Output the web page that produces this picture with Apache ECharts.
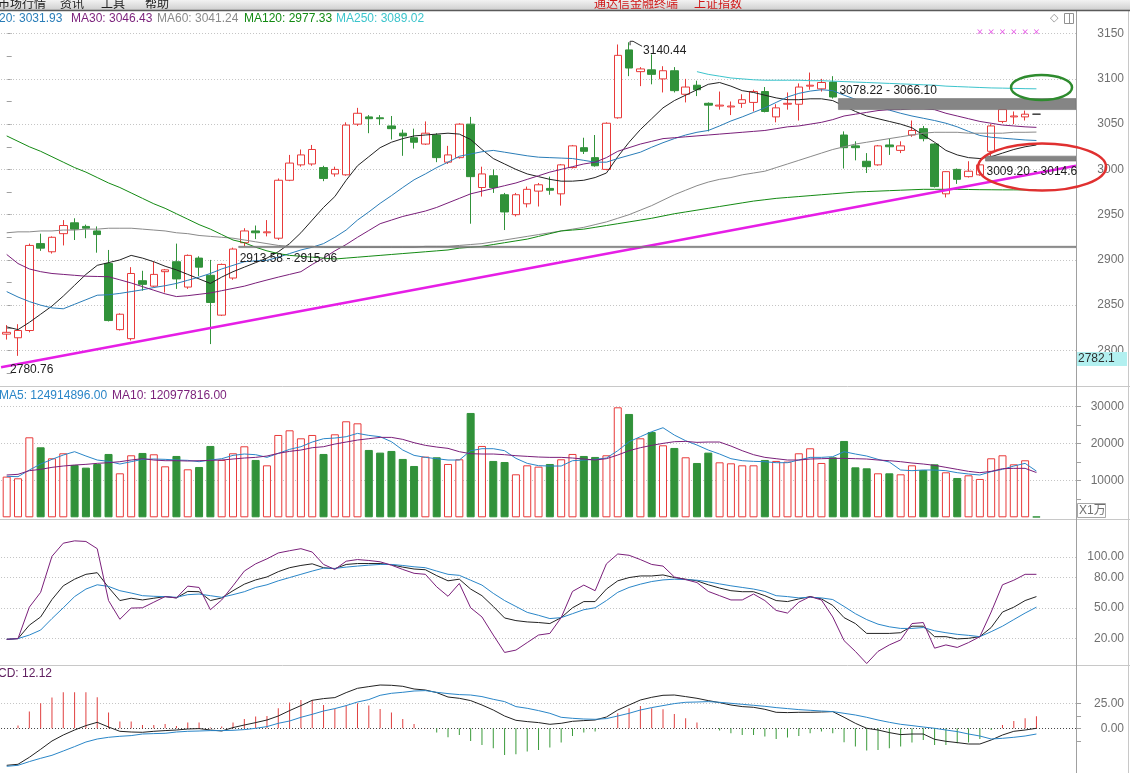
<!DOCTYPE html>
<html><head><meta charset="utf-8">
<script src="https://cdn.jsdelivr.net/npm/echarts@6.0.0/dist/echarts.min.js"></script>
<style>html,body{margin:0;padding:0;background:#fff;overflow:hidden}#chart{width:1130px;height:773px}</style>
</head><body><div id="chart"></div>
<script>
// ---------------- data ----------------
const categories = Array.from({length: 95}, (_, i) => 'D' + (i + 1));
const open = [2818,2814,2822,2918,2909,2929,2941,2937,2932,2896,
2823,2813,2877,2871,2887,2898,2870,2902,2883,2839,
2880,2919,2932,2930,2924,2988,3005,3006,3002,2995,
2994,3050,3058,3057,3048,3040,3035,3028,3038,3008,
3013,3050,2980,2993,2972,2950,2962,2976,2979,2973,
3002,3024,3013,3000,3057,3132,3108,3110,3100,3109,
3083,3093,3073,3070,3069,3073,3074,3086,3058,3072,
3072,3092,3089,3096.5,3038,3026,3009,3005,3027,3021,
3038,3045,3028,2973,3000,2992,2994,3020,3053,3058,
3058,3061];
const close = [2820,2822,2916,2913,2925,2938,2934,2935,2928,2833,
2840,2885,2873,2884,2889,2879,2905,2892,2853,2895,
2912,2932,2930,2931,2988,3007,3016,3022,2990,3000,
3049,3062,3056,3056,3045,3037,3030,3040,3013,3016,
3050,2992,2995,2980,2953,2972,2978,2983,2977,3005,
3026,3020,3004,3051,3126,3112,3111,3105,3109,3087,
3091,3088,3071,3071,3070,3077,3086,3064,3068,3073,
3091,3093,3096,3080,3024,3024,3003,3026,3025,3026,
3043,3034,2981,2997.5,2989,2998,3005,3048,3066.1,3059,
3061,3061];
const high = [2828,2829,2918,2929,2926,2944,2946,2939,2937,2911,
2841,2892,2888,2898,2890,2918,2906,2904,2900,2896,
2913.58,2935,2938,2944,2990,3016,3022,3027,3004,3003,
3052,3068,3060,3060,3059,3044,3045,3053,3040,3026,
3051,3058,3003,3000,2974,2974,2981,2985,2992,3006,
3027,3035,3038,3052,3138,3140.44,3113,3127,3114,3113,
3100,3098,3074,3086,3075,3083,3088,3091,3072,3085,
3095,3107,3100,3103,3042,3031,3018,3027,3034,3031,
3054,3048,3029,2998,3001,3009,3009.2,3050,3066.1,3064,
3065,3061];
const low = [2812,2794,2820,2910,2907,2916,2922,2924,2908,2832,
2822,2811,2866,2870,2864,2868,2868,2882,2807,2838,
2878,2915.06,2923,2926,2922,2987,3003,3004,2987,2992,
2993,3048,3040,3049,3033,3015,3023,3027,3008,3006,
3012,2940,2970,2974,2933,2948,2958,2959,2972,2960,
3001,3017,3003,2999,3056,3103,3092,3094,3085,3085,
3074,3081,3042,3066,3060,3068,3064,3063,3052,3066,
3054,3088,3086,3078.22,3001,3010,2996,3004,3016,3018,
3036,3031,2980,2969,2984,2991,2993,3014.6,3051,3050,
3054,3061];
const ma10 = [2826,2823,2831,2840,2849,2860,2872,2884,2894,2897,
2900,2905,2902,2898,2893,2889,2884,2879,2874,2881,
2887,2892,2897,2902,2909,2918,2930,2944,2958,2970,
2988,3004,3014,3024,3030,3034,3037,3038,3039,3040,
3039,3033,3022,3012,3006,3000,2995,2992,2989,2987,
2987,2988,2991,2996,3014,3030,3044,3056,3068,3076,
3082,3088,3094,3096,3092,3087,3085,3082,3079,3077,
3077,3078,3078,3076,3070,3064,3059,3056,3053,3050,
3046,3038,3030,3021,3016,3013,3012,3014,3018,3022,
3025,3027];
const ma20 = [2865,2859,2854,2850,2847,2846,2851,2856,2861,2861.5,
2863,2865,2867,2869.5,2871.5,2874,2877.5,2881,2885,2890,
2894,2898,2899,2899.5,2903,2907,2911,2914,2918,2925,
2933,2944,2953,2962.5,2971,2980,2988.5,2995,3002,3008,
3014.5,3017,3019.5,3021,3019,3017,3015,3013.5,3013,3012.5,
3012,3010,3008,3008,3012,3015.5,3019,3024.5,3029.5,3034,
3038,3041,3043,3048,3053.5,3058,3063,3068,3074,3080,
3084,3086.5,3088,3087,3082,3077.5,3073,3069,3065.5,3062,
3059,3056.5,3054,3051,3047,3042,3037.5,3035.5,3034.5,3033.5,
3032.5,3031.93];
const ma30 = [2906,2896,2890,2887,2885,2884,2883,2882,2881.7,2881.4,
2878,2874.5,2870.5,2866.5,2862.5,2859.5,2860.5,2862,2863.5,2866,
2868.5,2871,2874.5,2877.8,2881,2884,2887,2895,2902,2910,
2917,2925,2932.5,2940,2944,2948,2951,2954,2958,2963,
2968,2973,2976,2979,2982,2985,2989,2993,2997,3000,
3003,3006,3008,3013,3020,3024,3028,3031,3034,3035,
3036,3037,3038,3039,3040,3041,3042,3043,3045,3047,
3048,3050,3052,3055,3059,3061,3063,3065,3066,3066,
3067,3067,3066,3062,3059,3056,3053,3051,3049,3048,
3047,3046.43];
const ma60 = [2930,2931,2931,2932,2932,2933,2933,2934,2934,2935,
2935,2935,2934,2933,2932,2930,2929,2927,2926,2925,
2924,2922,2920,2918,2916,2915,2915,2915,2914,2914,
2914,2914,2914,2914,2914,2914,2914,2915,2915,2915,
2916,2917,2918,2920,2922,2924,2926,2928,2930,2932,
2934,2936,2939,2942,2946,2950,2955,2960,2966,2972,
2977,2982,2986,2989,2991,2994,2996,2998,3002,3006,
3010,3014,3018,3022,3025,3028,3030,3032,3034,3036,
3038,3040,3041,3041,3041,3040,3040,3040,3040,3041,
3041,3041.24];
const ma120 = [3037,3031,3025,3020,3014,3008,3002,2997,2991,2985,
2980,2974,2968,2962,2957,2951,2945,2939,2934,2928,
2922,2919,2914,2910,2907,2905,2904,2903,2902,2901,
2902,2903,2904,2905,2906,2907,2908,2909,2910,2911,
2913,2914,2915,2917,2919,2921,2923,2926,2929,2932,
2933,2934,2936,2938,2940,2942,2944,2946,2948.5,2951,
2953,2955,2957,2959,2961,2963,2965,2966.5,2968,2969,
2970,2971,2972,2973,2974,2975,2975.5,2976,2976.5,2977,
2977.5,2978,2978,2978,2978,2977.8,2977.6,2977.5,2977.4,2977.4,
2977.3,2977.33];
const ma250Start = 61;
const ma250 = [3108,3105,3103,3101,3100,3099,3098.5,3098.5,3098.5,3098.5,
3098,3098,3097.5,3097,3096.5,3096,3095.5,3095,3094.5,3094,
3093.5,3093,3092,3091.5,3091,3090.5,3090,3089.8,3089.5,3089.2,
3089.02];
const volume = [11000,10540,21620,18920,15950,17300,14140,13420,14410,17120,
11890,16760,17390,17030,13780,16580,12970,13600,19280,15500,
17300,19190,15500,14050,22250,23510,21350,22250,17120,22430,
25950,25400,18200,17480,17930,15770,13870,16400,16220,14410,
15680,28200,19280,15230,14950,11620,14050,13690,14410,15680,
17120,16580,16310,16760,29730,27930,21350,23060,19460,18740,
16220,14680,17480,14860,14590,14050,14050,15500,15230,15050,
17300,18650,14680,16220,20630,13510,13240,11890,11890,11620,
14050,12790,14320,12160,10630,11350,10360,15950,16760,14320,
15410,180];
const volMA5 = [11070,10980,12780,14400,15660,16830,17730,16560,15480,15120,
14400,15030,15660,15750,15660,15480,15390,15030,15480,15840,
16740,17100,16920,16200,17280,18360,19080,20340,21240,21420,
21780,22680,22140,21780,20430,18180,16740,16200,15840,15480,
15480,18000,18540,18540,18000,15930,14580,13950,13860,13860,
15300,15480,15660,16020,18000,20430,21780,23130,24210,22230,
20700,19530,18180,17100,15840,15300,15120,15030,14760,14760,
15480,16200,16200,16380,17730,17100,16560,15660,14940,12780,
12600,12780,12780,12600,12060,11700,11430,12330,12960,13860,
14580,12491.4896];
const volMA10 = [11430,11610,12600,12960,13500,13860,14130,14310,14580,14760,
15030,15480,15840,15480,15300,15300,15210,15300,15390,15480,
15750,16020,16200,16560,17280,17820,18180,18810,19080,19800,
20340,20880,21240,21600,21600,21060,20160,19440,18990,18630,
17730,17190,17100,17100,16920,16650,16470,16290,16200,16200,
16020,15750,15480,15840,16830,18000,18810,19440,19980,20430,
20520,20250,20340,20340,19260,18000,16920,16200,15840,15480,
15480,15750,15840,15930,15930,15840,15750,15480,15300,15030,
14670,14400,14040,13500,12960,12420,12060,12420,13140,13230,
13230,12097.7816];
const kLine = [19.0,19.7,32.9,41.0,58.1,71.6,78.1,82.9,84.5,70.0,
57.1,59.4,57.7,59.4,61.0,59.7,66.1,65.8,57.1,59.7,
66.8,73.2,77.4,80.3,85.5,89.4,91.6,93.2,89.4,88.4,
92.6,93.5,93.5,93.5,92.3,90.0,88.1,87.4,81.6,76.5,
78.1,68.4,61.9,51.3,40.0,37.4,36.1,35.5,34.5,40.3,
50.0,56.1,56.1,68.4,76.5,79.7,81.3,81.3,82.3,79.7,
78.1,76.5,72.6,69.4,66.8,65.8,65.8,61.9,57.1,56.1,
58.7,61.0,58.7,52.3,40.3,34.5,24.8,24.8,24.8,25.5,
31.9,31.9,21.6,21.6,19.4,20.0,21.6,30.6,45.8,50.6,
57.1,61.0];
const dLine = [19.0,19.7,23.2,28.1,39.4,50.0,61.0,68.4,72.6,71.0,
66.8,64.5,61.9,61.3,61.0,60.3,62.9,63.5,61.9,60.3,
62.9,65.8,70.0,72.6,76.5,79.7,82.9,86.1,89.0,88.7,
90.0,91.0,91.9,92.6,92.6,91.6,90.3,89.4,86.1,82.9,
81.9,77.1,72.3,64.2,57.1,51.3,45.5,42.6,39.4,40.3,
44.2,48.1,50.0,57.1,65.2,70.0,73.2,75.8,77.4,78.1,
77.7,77.1,75.5,73.5,71.6,70.0,68.4,66.1,61.9,61.0,
59.7,60.3,59.7,58.1,51.3,44.2,38.4,33.9,31.3,29.7,
29.7,30.6,27.4,25.5,23.9,22.9,21.6,26.5,31.9,38.4,
44.8,50.6];
const jLine = [19.0,19.7,50.6,65.2,100.6,113.5,115.8,115.2,108.1,57.1,
38.7,49.7,50.0,55.5,61.0,59.7,71.3,70.0,48.1,57.7,
71.6,86.1,93.2,98.1,103.9,106.1,108.1,104.8,92.6,87.7,
95.8,97.4,96.5,95.2,91.9,87.7,83.9,82.9,70.6,61.3,
73.9,50.0,41.0,23.2,6.1,8.4,15.8,23.2,24.8,40.3,
66.1,72.3,66.8,93.2,102.9,101.6,97.4,92.6,91.0,80.3,
77.7,74.8,66.1,61.9,57.7,57.7,63.5,57.1,47.4,44.8,
55.5,61.0,57.7,41.0,17.7,7.1,-4.8,7.1,13.5,18.4,
34.5,35.5,10.3,13.5,11.0,15.8,21.6,45.8,72.6,77.1,
82.9,82.9];
const dif = [-37,-36,-29,-21,-12.7,-6.7,-1.7,2.7,6,1.3,
-3,-3.7,-4,-3,-2.3,-1.7,-0.7,-0.3,-1.7,-2.7,
0.7,3.3,5.7,8.3,12.3,17.7,22.7,28,29.7,30.7,
35.7,40,41.7,43.3,43,42,39.3,38.3,35.7,31.3,
30,27.7,23.3,18.3,12.3,8,6.7,5.7,4,5,
7,7.7,8.3,11.3,18.3,23.3,28.3,31,33,33.3,
31.7,30,27.7,25.7,23.3,21.7,21,19,16,15.7,
16,16,16.3,16.7,11,5,0,-1.7,-4.3,-6.3,
-5.7,-5.7,-11,-13,-14.3,-15.7,-15.7,-11.7,-6.7,-3,
-1.7,0];
const dea = [-38,-37,-33.3,-30,-27,-22.7,-18.3,-13.7,-10.7,-9,
-8,-7.3,-5.7,-5.3,-5,-3.7,-3,-2.7,-2.3,-2.3,
-2,-1.3,0,1.7,5,7.3,11,14,17.3,19.7,
22.7,26.3,28.7,33,35,36,37.3,37.7,36,34.7,
33.7,33.3,31.7,29,26.7,21.7,20,17.7,15,11,
10,9.3,9,9.7,12.3,15,18.3,20.7,22.7,24.7,
26,26.3,26.7,26,25,24,23,22,20.7,19.7,
18.7,18,17.3,16.7,15,13.3,11,8.3,6,4,
2.7,1.3,0,-1.7,-3.3,-5.7,-7.7,-10.7,-10,-9,
-7.7,-5.7];
const macd = [0,2.7,16.7,25,30.7,36,36,36,31,15.7,
6.7,6.7,3.3,3.3,4.3,2.3,5.7,5.7,0.7,1.7,
5.7,9.3,11.7,12.3,20,25.7,28.3,28.3,23.3,19.3,
22.7,25,22.7,19.3,15.7,9.3,4.3,0.3,-4.3,-9,
-6.7,-12.7,-16.7,-20,-26.7,-26,-23.3,-21.7,-19.3,-14.3,
-7.7,-4.3,-3.3,0.3,15,20,22.3,20,19,14.3,
10,5.7,-0.3,-2.3,-5,-6.7,-6.7,-8.3,-10.7,-9.3,
-7.7,-5,-3.3,-5,-14,-18.3,-22.3,-21.7,-20,-18.3,
-14.3,-11.7,-16.7,-16.7,-15,-14.3,-10.7,-1.7,3.3,7.3,
10,12.12];
const priceTicks = [2800,2850,2900,2950,3000,3050,3100,3150];
const priceMinorTicks = [2775,2800,2825,2850,2875,2900,2925,2950,2975,3000,3025,3050,3075,3100,3125,3150];
const volTicks = [10000,20000,30000];
const volMinorTicks = [5000,10000,15000,20000,25000,30000];
const kdjTicks = [20,50,80,100];
const macdTicks = [0,25];
const macdMinorTicks = [-12.5,0,12.5,25];
// gaps: candle index before the gap, edge of earlier bar, edge of later bar
const gaps = [
  {after: 20, a: 2913.58, b: 2915.06, side: 'below'},
  {after: 73, a: 3078.22, b: 3066.10, side: 'above'},
  {after: 86, a: 3009.20, b: 3014.65, side: 'below'}
];
const trendLine = [[-0.5, 2781.5], [94.5, 3004.0]];
const lowMark = {idx: -0.5, value: 2780.76};
const highMark = {idx: 55, value: 3140.44};
const xMarks = [86, 87, 88, 89, 90, 91];
const xMarkLevel = 3152;
const cursorPrice = '2782.1';

// ---------------- layout & style ----------------
const RED = '#e83a3a', GREEN = '#31923a';
const C_MA10 = '#222222', C_MA20 = '#2a7db8', C_MA30 = '#7a1f7a', C_MA60 = '#8a8a8a', C_MA120 = '#138a13', C_MA250 = '#3cc4cc';
const FONT = 'Liberation Sans';
const L = 1.04, W = 1075;
const N = categories.length;
const gridDefs = [
  {top: 11, height: 375},
  {top: 387, height: 130.3},
  {top: 520, height: 145},
  {top: 666, height: 107}
];
const yRanges = [[2760.7, 3175.0], [0, 35216], [-6.25, 136.3], [-44.7, 62.3]];

function isUp(i) { return close[i] > open[i] || (close[i] === open[i] && i > 0 && close[i] > close[i - 1]); }

const chart = echarts.init(document.getElementById('chart'));

const labelBase = {color: '#707070', fontSize: 12, fontFamily: FONT, align: 'right', margin: 48};
function yAxisDef(g, ticks, minor, fmt) {
  return {
    type: 'value', gridIndex: g, position: 'right', min: yRanges[g][0], max: yRanges[g][1],
    axisLine: {show: false},
    axisTick: minor ? {show: true, customValues: minor, length: 5, lineStyle: {color: '#a0a0a0'}} : {show: false},
    axisLabel: Object.assign({customValues: ticks, formatter: fmt || (v => String(v))}, labelBase),
    splitLine: {show: false}
  };
}
function gridLines(ticks, color) {
  return {
    silent: true, symbol: ['none', 'none'], z: 1, animation: false,
    label: {show: false},
    lineStyle: {type: [1, 2], color: color || '#c4c4c4', width: 1},
    data: ticks.map(v => ({yAxis: v}))
  };
}
function line(name, data, color, xi, yi, extra) {
  return Object.assign({name, type: 'line', xAxisIndex: xi, yAxisIndex: yi, data, symbol: 'none',
    lineStyle: {color, width: 1}, z: 3, silent: true, animation: false}, extra || {});
}

const candleData = open.map((o, i) => {
  const it = {value: [o, close[i], low[i], high[i]]};
  if (o === close[i]) it.itemStyle = {color: '#333', color0: '#333', borderColor: '#333', borderColor0: '#333', borderColorDoji: '#333'};
  return it;
});
const volData = volume.map((v, i) => ({value: v, itemStyle: isUp(i)
  ? {color: '#ffffff', borderColor: RED, borderWidth: 1}
  : {color: GREEN, borderColor: GREEN, borderWidth: 1}}));
const macdData = macd.map(v => ({value: v, itemStyle: {color: v >= 0 ? '#e04040' : '#3a9a3a'}}));

const option = {
  animation: false,
  backgroundColor: '#ffffff',
  textStyle: {fontFamily: FONT},
  grid: gridDefs.map(g => ({left: L, width: W, top: g.top, height: g.height, containLabel: false})),
  xAxis: [0, 1, 2, 3].map(g => ({type: 'category', gridIndex: g, data: categories, boundaryGap: true, show: false}))
    .concat([{type: 'value', gridIndex: 0, min: -0.5, max: N - 0.5, show: false}]),
  yAxis: [
    yAxisDef(0, priceTicks, priceMinorTicks),
    yAxisDef(1, volTicks, volMinorTicks),
    yAxisDef(2, kdjTicks, null, v => v.toFixed(2)),
    yAxisDef(3, macdTicks, macdMinorTicks, v => v.toFixed(2))
  ],
  series: [
    {
      name: 'K线', type: 'candlestick', xAxisIndex: 0, yAxisIndex: 0, data: candleData, barWidth: 8, z: 2,
      itemStyle: {color: '#ffffff', color0: GREEN, borderColor: RED, borderColor0: GREEN, borderWidth: 1}
    },
    line('MA10', ma10, C_MA10, 0, 0),
    line('MA20', ma20, C_MA20, 0, 0),
    line('MA30', ma30, C_MA30, 0, 0),
    line('MA60', ma60, C_MA60, 0, 0),
    line('MA120', ma120, C_MA120, 0, 0),
    line('MA250', ma250.map((v, i) => [ma250Start + i, v]), C_MA250, 0, 0),
    {
      name: 'trend', type: 'line', xAxisIndex: 4, yAxisIndex: 0, data: trendLine, symbol: 'none', z: 4, silent: true,
      lineStyle: {color: '#e61ee6', width: 2.5},
      markLine: gridLines(priceTicks),
      markArea: {
        silent: true, z: 6,
        itemStyle: {color: '#858585', borderColor: '#707070', borderWidth: 0.6},
        label: {show: false},
        data: gaps.map(g => [{coord: [g.after + 0.5, Math.min(g.a, g.b)]}, {coord: [N - 0.5, Math.max(g.a, g.b)]}])
      }
    },
    {
      name: 'x', type: 'scatter', xAxisIndex: 4, yAxisIndex: 0, z: 6, silent: true,
      data: xMarks.map(k => [k, xMarkLevel]),
      symbol: 'path://M0,1L1,0L5,4L9,0L10,1L6,5L10,9L9,10L5,6L1,10L0,9L4,5Z', symbolSize: 5,
      itemStyle: {color: '#e020e0'}
    },
    {
      name: 'VOL', type: 'bar', xAxisIndex: 1, yAxisIndex: 1, data: volData, barWidth: 8, z: 2, silent: true
    },
    line('VMA5', volMA5, '#2a86c8', 1, 1, {markLine: gridLines(volTicks)}),
    line('VMA10', volMA10, '#7a1f7a', 1, 1),
    line('K', kLine, '#222222', 2, 2, {markLine: gridLines(kdjTicks)}),
    line('D', dLine, '#2a86c8', 2, 2),
    line('J', jLine, '#7a1f7a', 2, 2),
    {
      name: 'MACD', type: 'bar', xAxisIndex: 3, yAxisIndex: 3, data: macdData, barWidth: 1, z: 2, silent: true
    },
    line('DIF', dif, '#222222', 3, 3, {markLine: {
      silent: true, symbol: ['none', 'none'], z: 1, label: {show: false},
      data: [
        {yAxis: 25, lineStyle: {type: [1, 2], color: '#c4c4c4', width: 1}},
        {yAxis: 0, lineStyle: {type: [1, 2], color: '#404040', width: 1}}
      ]
    }}),
    line('DEA', dea, '#2a86c8', 3, 3)
  ]
};
chart.setOption(option);

// ---------------- annotations (positioned through the axes) ----------------
const px = (x, y) => chart.convertToPixel({xAxisIndex: 4, yAxisIndex: 0}, [x, y]);
const T = (text, x, y, fill, extra) => Object.assign({type: 'text', x, y, z: 20,
  style: {text, fill, font: '12px "' + FONT + '"', textAlign: 'left', textVerticalAlign: 'middle'}}, extra || {});
const last = a => a[a.length - 1];
const gfx = [];

// toolbar
gfx.push({type: 'rect', shape: {x: 0, y: 0, width: 1130, height: 10}, z: 30,
  style: {fill: new echarts.graphic.LinearGradient(0, 0, 0, 1, [{offset: 0, color: '#f2f2f2'}, {offset: 1, color: '#cfcfcf'}])}});
gfx.push({type: 'line', shape: {x1: 0, y1: 10.5, x2: 1130, y2: 10.5}, z: 31, style: {stroke: '#5a5a5a', lineWidth: 1.5}});
[['市场行情', -2], ['资讯', 60], ['工具', 101], ['帮助', 145]].forEach(([t, x]) =>
  gfx.push({type: 'text', x, y: 9, z: 31, style: {text: t, fill: '#202020', font: '12px "Noto Sans CJK SC"', textAlign: 'left', textVerticalAlign: 'bottom'}}));
[['通达信金融终端', 594], ['上证指数', 694]].forEach(([t, x]) =>
  gfx.push({type: 'text', x, y: 9, z: 31, style: {text: t, fill: '#d01818', font: '12px "Noto Sans CJK SC"', textAlign: 'left', textVerticalAlign: 'bottom'}}));

// panel frames
[386.5, 519.5, 665.5].forEach(y => gfx.push({type: 'line', shape: {x1: 0, y1: y, x2: 1130, y2: y}, z: 10, style: {stroke: '#c8c8c8', lineWidth: 1}}));
gfx.push({type: 'line', shape: {x1: 1076.5, y1: 11, x2: 1076.5, y2: 773}, z: 10, style: {stroke: '#a0a0a0', lineWidth: 1}});
gfx.push({type: 'line', shape: {x1: 1128.5, y1: 11, x2: 1128.5, y2: 773}, z: 10, style: {stroke: '#c8c8c8', lineWidth: 1}});

// legends
gfx.push(T('MA20: ' + last(ma20).toFixed(2), -19, 19, C_MA20));
gfx.push(T('MA30: ' + last(ma30).toFixed(2), 71, 19, C_MA30));
gfx.push(T('MA60: ' + last(ma60).toFixed(2), 157, 19, C_MA60));
gfx.push(T('MA120: ' + last(ma120).toFixed(2), 244, 19, C_MA120));
gfx.push(T('MA250: ' + last(ma250).toFixed(2), 336, 19, C_MA250));
gfx.push(T('MA5: ' + (last(volMA5) * 10000).toFixed(2), -1, 396, '#2a86c8'));
gfx.push(T('MA10: ' + (last(volMA10) * 10000).toFixed(2), 112, 396, '#7a1f7a'));
gfx.push(T('MACD: ' + last(macd).toFixed(2), -20, 674, '#602060'));

// top-right icons
gfx.push(T('◇', 1050, 18, '#909090', {style: {text: '◇', fill: '#909090', font: '11px "DejaVu Sans"', textAlign: 'left', textVerticalAlign: 'middle'}}));
gfx.push({type: 'rect', shape: {x: 1064.5, y: 13.5, width: 9, height: 10}, z: 20, style: {fill: 'none', stroke: '#909090', lineWidth: 1}});
gfx.push({type: 'line', shape: {x1: 1069.5, y1: 13.5, x2: 1069.5, y2: 23.5}, z: 20, style: {stroke: '#909090', lineWidth: 1}});

// volume unit box
gfx.push({type: 'rect', shape: {x: 1077.5, y: 503.5, width: 28, height: 14}, z: 20, style: {fill: '#ffffff', stroke: '#a8a8a8', lineWidth: 1}});
gfx.push({type: 'text', x: 1079, y: 510.5, z: 21, style: {text: 'X1万', fill: '#707070', font: '12px "Liberation Sans", "Noto Sans CJK SC"', textAlign: 'left', textVerticalAlign: 'middle'}});

// cursor price box
gfx.push({type: 'rect', shape: {x: 1077, y: 352, width: 50, height: 14}, z: 20, style: {fill: '#b2f0f0'}});
gfx.push(T(cursorPrice, 1078, 359, '#303030', {z: 21}));

// low / high marks
const pLow = px(lowMark.idx, lowMark.value);
gfx.push(T(lowMark.value.toFixed(2), pLow[0] + 9, pLow[1] + 2, '#202020'));
const pHigh = px(highMark.idx, highMark.value);
gfx.push({type: 'polyline', z: 20, shape: {points: [[pHigh[0] + 1, pHigh[1] + 3], [pHigh[0] + 1, pHigh[1] - 1], [pHigh[0] + 4, pHigh[1] - 1], [pHigh[0] + 13, pHigh[1] + 4]]},
  style: {stroke: '#303030', lineWidth: 1, fill: 'none'}});
gfx.push(T(highMark.value.toFixed(2), pHigh[0] + 14, pHigh[1] + 8, '#202020'));

// gap labels
gaps.forEach(g => {
  const lo = Math.min(g.a, g.b), hi = Math.max(g.a, g.b);
  const x0 = px(g.after + 0.5, lo)[0];
  const y = g.side === 'below' ? px(0, lo)[1] + 11 : px(0, hi)[1] - 8;
  gfx.push(T(g.a.toFixed(2) + ' - ' + g.b.toFixed(2), x0 + 1, y, '#202020', {z: 22}));
});
// clip text at the plot edge
gfx.push({type: 'rect', shape: {x: 1077, y: 163, width: 14, height: 17}, z: 40, style: {fill: '#ffffff'}});

// ellipses
const eG = px(91.45, 3090.5), eR = px(91.5, 3002.7);
gfx.push({type: 'ellipse', z: 100, shape: {cx: eG[0], cy: eG[1], rx: 30.5, ry: 12.5}, style: {fill: 'none', stroke: '#2e8b2e', lineWidth: 2.5}});
gfx.push({type: 'ellipse', z: 100, shape: {cx: eR[0], cy: eR[1], rx: 64, ry: 23.5}, style: {fill: 'none', stroke: '#e03030', lineWidth: 2.5}});

chart.setOption({graphic: {elements: gfx}});
</script></body></html>
